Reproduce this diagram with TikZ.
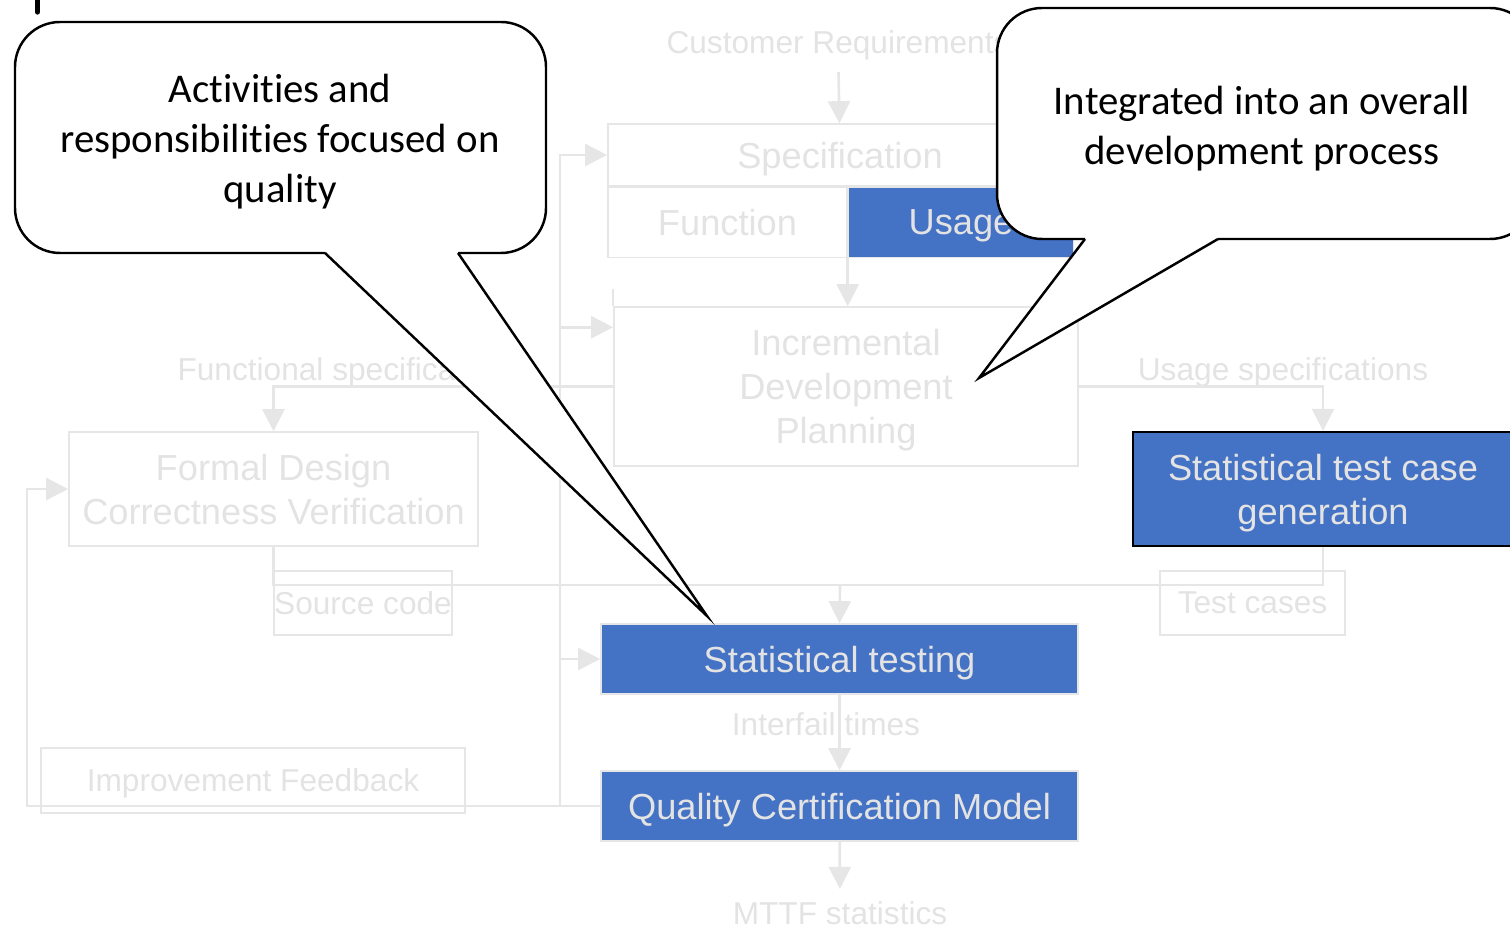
\documentclass[tikz,border=0pt]{standalone}
\usepackage{fontspec}
\setmainfont{Liberation Sans}
\newfontfamily\notefont{Carlito}[Ligatures=NoCommon]
\usepackage{xcolor}
\usetikzlibrary{calc, arrows.meta, positioning}
\definecolor{ghost}{HTML}{E6E6E6}
\definecolor{ghosttext}{HTML}{E3E3E3}
\definecolor{boxblue}{HTML}{4472C4}
\newcommand{\bigsize}{\fontsize{10.3}{12.5}\selectfont}
\newcommand{\smallsize}{\fontsize{9}{11}\selectfont}
\tikzset{
	x = .01cm,
	y = -.01cm,
	line width = .75pt,
	>={Triangle[length=6.3pt, width=6.3pt]},
	font = \bigsize,
	stage/.style={
		draw=ghost,
		text=ghosttext,
		align=center,
		inner sep=0pt,
		text depth=0pt
	},
	hot/.style={
		stage,
		fill=boxblue
	},
	tag/.style={
		text=ghosttext,
		font=\smallsize
	},
	flow/.style={
		draw=ghost,
		line width=.75pt
	},
	bubble/.style={
		draw=black,
		fill=white,
		line width=.7pt
	},
	note/.style={
		align=center,
		font=\notefont\fontsize{11.6}{14.2}\selectfont
	}
}

\begin{document}
\begin{tikzpicture}
	\useasboundingbox (0,0) rectangle (1510,928);

	% process boxes
	\node[tag] (cust) at (838,45) {Customer Requirements};
	\node[stage, minimum width=4.64cm, minimum height=.62cm] (spec) at (840,155) {Specification};
	\node[stage, minimum width=2.39cm, minimum height=.7cm, anchor=north west] (func) at (spec.south west) {Function};
	\node[hot, minimum width=2.25cm, minimum height=.7cm, right=0pt of func] (usage) {Usage};
	\node[stage, minimum width=4.64cm, minimum height=1.59cm] (plan) at (846,386.5) {Incremental\\Development\\Planning};
	\node[tag] (fspec) at (342,372) {Functional specification};
	\node[tag] (uspec) at (1283,372) {Usage specifications};
	\node[stage, minimum width=4.09cm, minimum height=1.14cm] (fdv) at (273.5,489) {Formal Design\\Correctness Verification};
	\node[hot, draw=black, line width=.6pt, minimum width=3.8cm, minimum height=1.14cm] (stcg) at (1323,489) {Statistical test case\\generation};
	\node[stage, font=\smallsize, minimum width=1.78cm, minimum height=.64cm] (src) at (363,603) {Source code};
	\node[stage, font=\smallsize, minimum width=1.85cm, minimum height=.64cm] (tc) at (1252.5,603) {Test cases};
	\node[hot, minimum width=4.77cm, minimum height=.7cm] (stest) at (839.5,659) {Statistical testing};
	\node[tag] (ift) at (826,724) {Interfail times};
	\node[hot, minimum width=4.77cm, minimum height=.7cm] (qcm) at (839.5,806) {Quality Certification Model};
	\node[tag] (mttf) at (840,913) {MTTF statistics};
	\node[stage, font=\smallsize, minimum width=4.24cm, minimum height=.65cm] (impf) at (253,780.5) {Improvement Feedback};

	\coordinate (bus) at (560,806);
	\coordinate (merge) at (840,585);
	\coordinate (planin) at ($(plan.north west)+(0,21)$);

	% connectors
	\draw[flow, ->] (cust) -- (spec);
	\draw[flow, ->] (usage.south west) -- (usage.south west |- plan.north);
	\draw[flow] (plan.north west) -- ++(0,-17);
	\draw[flow, ->] (qcm.west) -- (bus) |- (spec.west);
	\draw[flow, ->] (bus |- planin) -- (planin);
	\draw[flow, ->] (bus |- stest.west) -- (stest.west);
	\draw[flow, ->] (plan.west) -| (fdv.north);
	\draw[flow, ->] (plan.east) -| (stcg.north);
	\draw[flow] (fdv.south) |- (merge) -| (stcg.south);
	\draw[flow, ->] (merge) -- (stest.north);
	\draw[flow, ->] (stest) -- (qcm);
	\draw[flow, ->] (qcm) -- (mttf);
	\draw[flow, ->] (qcm.west) -- ++(-573,0) |- (fdv.west);

	% callouts
	\draw[bubble, rounded corners=.45cm] (325,253) -- (15,253) -- (15,22) -- (546,22) -- (546,253) -- (458,253);
	\draw[bubble] (325,253) -- (707,616) -- (458,253);
	\node[note] (leftnote) at (280,142) {Activities and\\responsibilities focused on\\quality};

	\draw[bubble, rounded corners=.45cm] (1085,239) -- (997,239) -- (997,8) -- (1535,8) -- (1535,239) -- (1218,239);
	\draw[bubble] (1085,239) -- (979,378) -- (1218,239);
	\node[note] (rightnote) at (1262,129) {Integrated into an overall\\development process};

	\draw[line width=1.5pt, line cap=round] (37.5,-3) -- (37.5,12);
\end{tikzpicture}
\end{document}
